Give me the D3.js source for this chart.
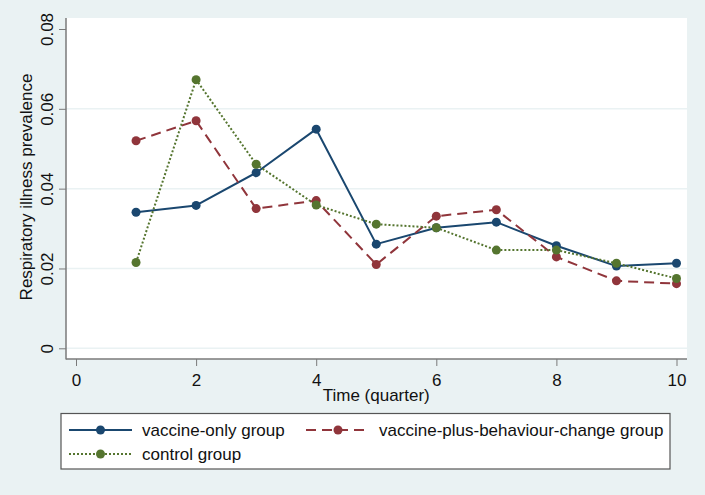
<!DOCTYPE html>
<html><head><meta charset="utf-8">
<script src="https://cdn.jsdelivr.net/npm/d3@7"></script>
<style>
html,body{margin:0;padding:0;background:#eaf2f3;}
text{font-family:"Liberation Sans",Arial,sans-serif;fill:#111;}
</style></head>
<body>
<svg id="chart" width="705" height="495"></svg>
<script>
const quarters = [1,2,3,4,5,6,7,8,9,10];
const vaccineOnly = [0.0341,0.0358,0.0440,0.0549,0.0261,0.0302,0.0316,0.0257,0.0206,0.0213];
const vaccinePlus = [0.0520,0.0570,0.0350,0.0370,0.0210,0.0331,0.0347,0.0229,0.0169,0.0162];
const control = [0.0215,0.0673,0.0461,0.0359,0.0311,0.0302,0.0246,0.0246,0.0213,0.0175];
const seriesNames = ["vaccine-only group","vaccine-plus-behaviour-change group","control group"];
const xTicks = [0,2,4,6,8,10];
const yTicks = [0,0.02,0.04,0.06,0.08];
const xTitle = "Time (quarter)";
const yTitle = "Respiratory illness prevalence";

const FS = 17;
const svg = d3.select("#chart");
const W = 705, H = 495;
svg.append("rect").attr("width",W).attr("height",H).attr("fill","#eaf2f3");

const plot = {left:66, right:687, top:18, bottom:359};
const x = d3.scaleLinear().domain([0,10]).range([76,676.5]);
const y = d3.scaleLinear().domain([0,0.08]).range([348.3,29]);

svg.append("rect").attr("x",plot.left).attr("y",plot.top)
  .attr("width",plot.right-plot.left).attr("height",plot.bottom-plot.top).attr("fill","#ffffff");

// grid
svg.append("g").selectAll("line").data(yTicks.filter(d=>d<0.08)).join("line")
  .attr("x1",plot.left).attr("x2",plot.right)
  .attr("y1",d=>y(d)).attr("y2",d=>y(d))
  .attr("stroke","#eaf2f3").attr("stroke-width",1.5);

// axes
const yAxis = d3.axisLeft(y).tickValues(yTicks).tickSize(7).tickFormat(d=>d===0?"0":d3.format(".2f")(d));
const gy = svg.append("g").attr("transform",`translate(${plot.left},0)`).call(yAxis);
gy.select(".domain").remove();
gy.selectAll(".tick line").attr("stroke","#7a7a7a").attr("stroke-width",1);
gy.selectAll(".tick text")
  .attr("x",0).attr("y",0).attr("dy",null)
  .attr("text-anchor","middle")
  .attr("font-size",FS)
  .attr("transform","translate(-13,0) rotate(-90)");
svg.append("line").attr("x1",plot.left).attr("x2",plot.left).attr("y1",plot.top).attr("y2",plot.bottom+0.5)
  .attr("stroke","#7a7a7a").attr("stroke-width",1.5);

const xAxis = d3.axisBottom(x).tickValues(xTicks).tickSize(7).tickFormat(d3.format("d"));
const gx = svg.append("g").attr("transform",`translate(0,${plot.bottom})`).call(xAxis);
gx.select(".domain").remove();
gx.selectAll(".tick line").attr("stroke","#7a7a7a").attr("stroke-width",1);
gx.selectAll(".tick text").attr("y",0).attr("dy",null)
  .attr("transform","translate(0,27)").attr("font-size",FS);
svg.append("line").attr("x1",plot.left).attr("x2",plot.right).attr("y1",plot.bottom).attr("y2",plot.bottom)
  .attr("stroke","#7a7a7a").attr("stroke-width",1.5);

// titles
svg.append("text").attr("x",(x(0)+x(10))/2).attr("y",401).attr("text-anchor","middle")
  .attr("font-size",FS).text(xTitle);
svg.append("text").attr("transform",`translate(32,187) rotate(-90)`).attr("text-anchor","middle")
  .attr("font-size",FS).text(yTitle);

const styles = [
  {color:"#1a476f", dash:null},
  {color:"#90353b", dash:"10,6"},
  {color:"#55752f", dash:"2,2"}
];
const allSeries = [vaccineOnly, vaccinePlus, control];
const line = d3.line().x(d=>x(d[0])).y(d=>y(d[1]));

allSeries.forEach((vals,i)=>{
  const pts = quarters.map((q,j)=>[q,vals[j]]);
  const st = styles[i];
  svg.append("path").datum(pts).attr("d",line).attr("fill","none")
    .attr("stroke",st.color).attr("stroke-width",2)
    .attr("stroke-dasharray",st.dash).attr("stroke-linejoin","round");
});
allSeries.forEach((vals,i)=>{
  const pts = quarters.map((q,j)=>[q,vals[j]]);
  svg.append("g").selectAll("circle").data(pts).join("circle")
    .attr("cx",d=>x(d[0])).attr("cy",d=>y(d[1])).attr("r",4.5)
    .attr("fill",styles[i].color);
});

// legend
const lg = svg.append("g");
lg.append("rect").attr("x",61).attr("y",413.5).attr("width",609).attr("height",55.5)
  .attr("fill","#ffffff").attr("stroke","#555").attr("stroke-width",1.2);
const legendPos = [
  {x0:69, x1:132, tx:142, y:430},
  {x0:306, x1:370, tx:379, y:430},
  {x0:69, x1:132, tx:142, y:454}
];
legendPos.forEach((p,i)=>{
  const st = styles[i];
  lg.append("line").attr("x1",p.x0).attr("x2",p.x1).attr("y1",p.y).attr("y2",p.y)
    .attr("stroke",st.color).attr("stroke-width",2).attr("stroke-dasharray",st.dash);
  lg.append("circle").attr("cx",(p.x0+p.x1)/2).attr("cy",p.y).attr("r",4.5).attr("fill",st.color);
  lg.append("text").attr("x",p.tx).attr("y",p.y+6).attr("font-size",FS).text(seriesNames[i]);
});
</script>
</body></html>
